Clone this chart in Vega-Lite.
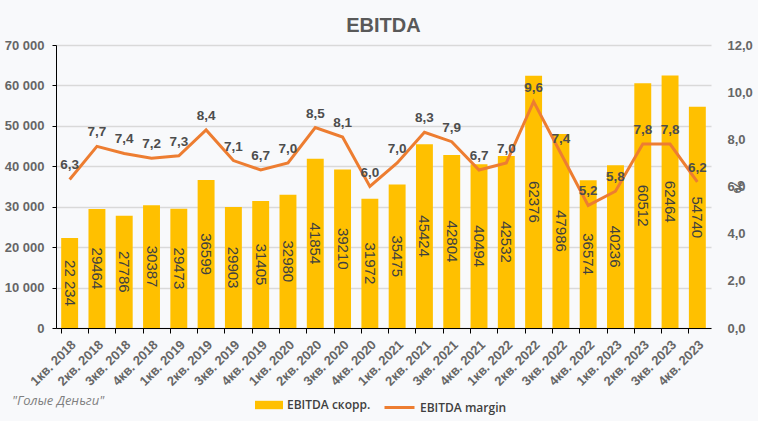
{
  "$schema": "https://vega.github.io/schema/vega-lite/v6.json",
  "width": 655,
  "height": 283,
  "autosize": {"type": "none"},
  "padding": {"left": 56, "top": 45, "right": 47, "bottom": 93},
  "background": "#f8f9fb",
  "config": {
    "locale": {"number": {"decimal": ",", "thousands": " ", "grouping": [3], "currency": ["", ""]}},
    "view": {"stroke": null},
    "font": "Liberation Sans"
  },
  "title": {"text": "EBITDA", "fontSize": 20, "fontWeight": "bold", "color": "#595959", "anchor": "middle", "offset": 3, "font": "Liberation Sans"},
  "data": {
    "values": [
      {"q": "1кв. 2018", "ebitda": 22234, "blabel": "22 234", "margin": 6.3},
      {"q": "2кв. 2018", "ebitda": 29464, "blabel": "29464", "margin": 7.7},
      {"q": "3кв. 2018", "ebitda": 27786, "blabel": "27786", "margin": 7.4},
      {"q": "4кв. 2018", "ebitda": 30387, "blabel": "30387", "margin": 7.2},
      {"q": "1кв. 2019", "ebitda": 29473, "blabel": "29473", "margin": 7.3},
      {"q": "2кв. 2019", "ebitda": 36599, "blabel": "36599", "margin": 8.4},
      {"q": "3кв. 2019", "ebitda": 29903, "blabel": "29903", "margin": 7.1},
      {"q": "4кв. 2019", "ebitda": 31405, "blabel": "31405", "margin": 6.7},
      {"q": "1кв. 2020", "ebitda": 32980, "blabel": "32980", "margin": 7.0},
      {"q": "2кв. 2020", "ebitda": 41854, "blabel": "41854", "margin": 8.5},
      {"q": "3кв. 2020", "ebitda": 39210, "blabel": "39210", "margin": 8.1},
      {"q": "4кв. 2020", "ebitda": 31972, "blabel": "31972", "margin": 6.0},
      {"q": "1кв. 2021", "ebitda": 35475, "blabel": "35475", "margin": 7.0},
      {"q": "2кв. 2021", "ebitda": 45424, "blabel": "45424", "margin": 8.3},
      {"q": "3кв. 2021", "ebitda": 42804, "blabel": "42804", "margin": 7.9},
      {"q": "4кв. 2021", "ebitda": 40494, "blabel": "40494", "margin": 6.7},
      {"q": "1кв. 2022", "ebitda": 42532, "blabel": "42532", "margin": 7.0},
      {"q": "2кв. 2022", "ebitda": 62376, "blabel": "62376", "margin": 9.6},
      {"q": "3кв. 2022", "ebitda": 47986, "blabel": "47986", "margin": 7.4},
      {"q": "4кв. 2022", "ebitda": 36574, "blabel": "36574", "margin": 5.2},
      {"q": "1кв. 2023", "ebitda": 40236, "blabel": "40236", "margin": 5.8},
      {"q": "2кв. 2023", "ebitda": 60512, "blabel": "60512", "margin": 7.8},
      {"q": "3кв. 2023", "ebitda": 62464, "blabel": "62464", "margin": 7.8},
      {"q": "4кв. 2023", "ebitda": 54740, "blabel": "54740", "margin": 6.2}
    ]
  },
  "encoding": {
    "x": {
      "field": "q", "type": "ordinal", "sort": null, "title": null,
      "scale": {"paddingInner": 0.38, "paddingOuter": 0.19},
      "axis": {
        "labelAngle": -45, "labelFontSize": 13, "labelFontWeight": "bold", "labelColor": "#666666", "labelFont": "Liberation Sans",
        "domainColor": "#000000", "tickColor": "#000000", "tickSize": 5, "bandPosition": 0,
        "labelPadding": 5
      }
    }
  },
  "layer": [
    {
      "layer": [
        {
          "mark": {"type": "bar", "color": "#FFC000"},
          "encoding": {
            "y": {
              "field": "ebitda", "type": "quantitative", "title": null,
              "scale": {"domain": [0, 70000]},
              "axis": {
                "format": ",.0f", "values": [0, 10000, 20000, 30000, 40000, 50000, 60000, 70000],
                "labelFontSize": 13, "labelFontWeight": "bold", "labelColor": "#666666", "labelPadding": 8,
                "domainColor": "#000000", "tickColor": "#000000", "tickSize": 4,
                "gridColor": "#d9d9d9", "gridWidth": 1.5
              }
            },
            "color": {
              "datum": "EBITDA скорр.", "type": "nominal",
              "scale": {"range": ["#FFC000"]},
              "legend": {
                "orient": "none", "legendX": -44, "legendY": 346, "direction": "horizontal",
                "title": "\"Голые Деньги\"", "titleOrient": "left", "titleFontStyle": "italic",
                "titleFontWeight": "normal", "titleColor": "#7f7f7f", "titleFont": "Open Sans",
                "titleFontSize": 13, "titlePadding": 150,
                "symbolType": "M-1,-0.3H1V0.3H-1Z", "symbolSize": 784, "symbolStrokeWidth": 0,
                "labelFont": "Open Sans", "labelFontSize": 12, "labelFontWeight": 600, "labelColor": "#404040"
              }
            }
          }
        },
        {
          "transform": [{"calculate": "datum.ebitda / 2", "as": "mid"}],
          "mark": {"type": "text", "angle": 90, "fontSize": 15, "color": "#404040", "font": "Liberation Sans", "align": "center", "baseline": "middle"},
          "encoding": {
            "y": {"field": "mid", "type": "quantitative", "title": null, "scale": {"domain": [0, 70000]}},
            "text": {"field": "blabel"}
          }
        }
      ]
    },
    {
      "layer": [
        {
          "mark": {"type": "line", "strokeWidth": 3},
          "encoding": {
            "y": {
              "field": "margin", "type": "quantitative", "title": "%",
              "scale": {"domain": [0, 12]},
              "axis": {
                "orient": "right", "format": ".1f", "values": [0, 2, 4, 6, 8, 10, 12],
                "labelFontSize": 13, "labelFontWeight": "bold", "labelColor": "#666666", "labelPadding": 16,
                "domain": false, "ticks": false, "grid": false,
                "titleFontSize": 14, "titleColor": "#666666", "titleFontWeight": "bold", "titlePadding": -22
              }
            },
            "stroke": {
              "datum": "EBITDA margin", "type": "nominal",
              "scale": {"range": ["#ED7D31"]},
              "legend": {
                "orient": "none", "legendX": 327, "legendY": 346, "title": null,
                "symbolType": "stroke", "symbolSize": 900, "symbolStrokeWidth": 3,
                "labelFont": "Open Sans", "labelFontSize": 12, "labelFontWeight": 600, "labelColor": "#404040"
              }
            }
          }
        },
        {
          "mark": {"type": "text", "fontSize": 13.5, "fontWeight": "bold", "color": "#4d4d4d", "baseline": "bottom", "dy": -7, "font": "Liberation Sans"},
          "encoding": {
            "y": {"field": "margin", "type": "quantitative", "scale": {"domain": [0, 12]}},
            "text": {"field": "margin", "type": "quantitative", "format": ".1f"}
          }
        }
      ]
    }
  ],
  "resolve": {"scale": {"y": "independent", "color": "independent"}}
}
